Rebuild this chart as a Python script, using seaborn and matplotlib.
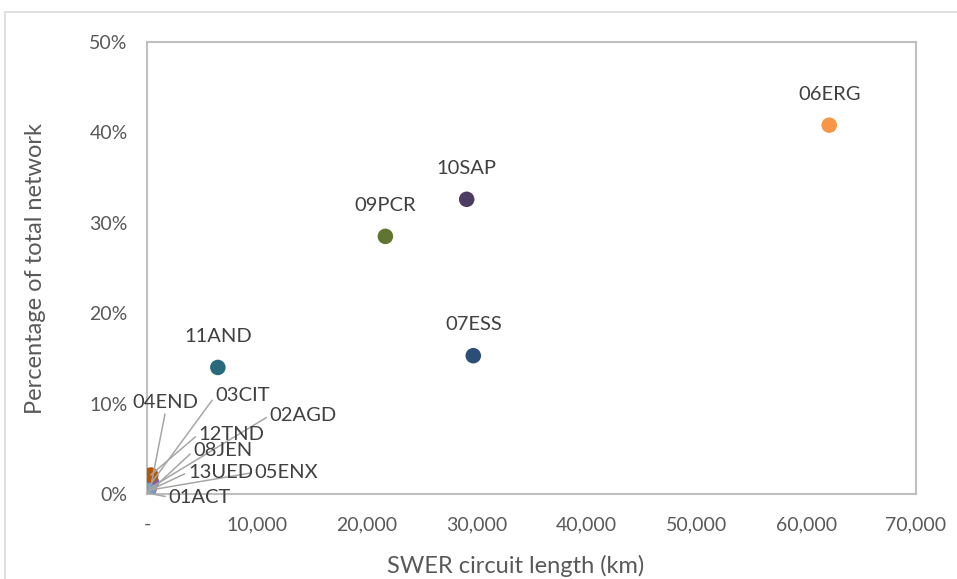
import matplotlib.pyplot as plt
import matplotlib.ticker as mticker
import numpy as np
import pandas as pd
import seaborn as sns

# Data (x = km, y = % of total network)
regions = ["01ACT", "02AGD", "03CIT", "04END", "05ENX", "06ERG", "07ESS",
           "08JEN", "09PCR", "10SAP", "11AND", "12TND", "13UED"]
swer_km = [60, 200, 150, 420, 100, 62100, 29700, 0, 21700, 29100, 6450, 340, 50]
pct_network = [0.1, 0.6, 0.8, 1.3, 0.4, 40.8, 15.3, 0.0, 28.5, 32.6, 14.0, 2.1, 0.3]
colors = ["#4F81BD", "#C0504D", "#9BBB59", "#8064A2", "#4BACC6", "#F79646",
          "#2C4D75", "#772C2A", "#5F7530", "#4D3B62", "#276A7C", "#B65708", "#729ACA"]

x_ticks = [0, 10000, 20000, 30000, 40000, 50000, 60000, 70000]
y_ticks = [0, 10, 20, 30, 40, 50]

# label offsets in pixels from the point (others: plain label above point)
label_offsets = {
    "01ACT": (52, -4), "02AGD": (154, 73), "03CIT": (94, 91), "04END": (14, 80),
    "05ENX": (138, 18), "08JEN": (76, 43), "12TND": (81, 41), "13UED": (73, 19),
}

df = pd.DataFrame({"region": regions, "km": swer_km, "pct": pct_network})

sns.set_style("white")
plt.rcParams["font.family"] = ["Lato", "DejaVu Sans"]

fig = plt.figure(figsize=(9.57, 5.79), dpi=100)
ax = fig.add_axes([147 / 957, 1 - 494 / 579, (916 - 147) / 957, (494 - 42) / 579])

# outer chart border (runs off the right and bottom edges)
fig.patches.append(plt.Rectangle((5 / 957, -0.1), 1.2, 1.1 - 12 / 579, transform=fig.transFigure,
                                 fill=False, edgecolor="#D9D9D9", linewidth=1.2))

sns.scatterplot(data=df, x="km", y="pct", hue="region", palette=dict(zip(regions, colors)),
                s=125, edgecolor="none", legend=False, ax=ax, zorder=3)

for name, xv, yv in zip(regions, swer_km, pct_network):
    if name in label_offsets:
        dx, dy = label_offsets[name]
        ax.annotate(name, (xv, yv), xytext=(dx, dy), textcoords="offset pixels",
                    ha="center", va="center", fontsize=14.5, color="#404040",
                    arrowprops=dict(arrowstyle="-", color="#A6A6A6", lw=1.1,
                                    shrinkA=0, shrinkB=0,
                                    relpos=(0.5, 0) if name == "04END" else (0, 0.5)),
                    zorder=4)
    else:
        ax.annotate(name, (xv, yv), xytext=(0, 31), textcoords="offset pixels",
                    ha="center", va="center", fontsize=14.5, color="#404040")

ax.set_xlim(0, 70000)
ax.set_ylim(0, 50)
ax.set_xticks(x_ticks)
ax.set_yticks(y_ticks)
ax.xaxis.set_major_formatter(mticker.FuncFormatter(lambda v, p: "-" if v == 0 else f"{v:,.0f}"))
ax.yaxis.set_major_formatter(mticker.FuncFormatter(lambda v, p: f"{v:.0f}%"))
ax.tick_params(axis="both", length=0, labelsize=14, labelcolor="#595959")
ax.tick_params(axis="x", pad=16)
ax.tick_params(axis="y", pad=14)

for sp in ax.spines.values():
    sp.set_visible(True)
    sp.set_color("#BFBFBF")
    sp.set_linewidth(1.5)

ax.set_xlabel("SWER circuit length (km)", fontsize=17, color="#595959")
ax.set_ylabel("Percentage of total network", fontsize=17, color="#595959")
ax.xaxis.set_label_coords(0.479, -0.134)
ax.yaxis.set_label_coords(-0.131, 0.5)

fig.savefig("out.png", dpi=100)
